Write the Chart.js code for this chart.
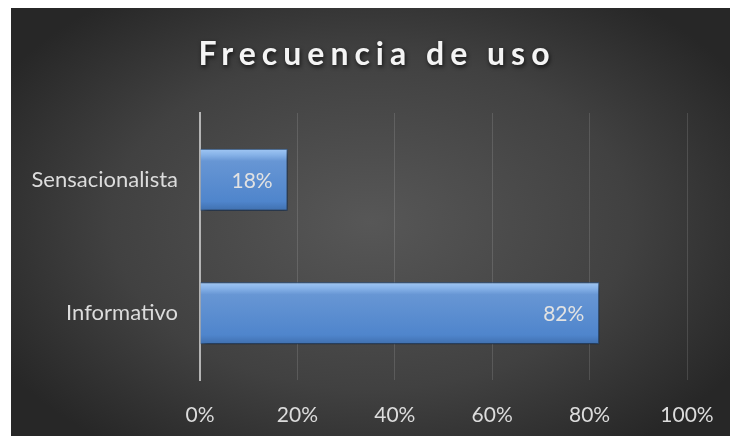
<!DOCTYPE html>
<html>
<head>
<meta charset="utf-8">
<script src="https://cdn.jsdelivr.net/npm/chart.js@4.4.1/dist/chart.umd.min.js"></script>
<style>
    html, body { margin: 0; padding: 0; background: #fff; }
    .wrap {
        position: absolute;
        left: 11px;
        top: 8px;
        width: 719px;
        height: 428px;
        background: radial-gradient(ellipse 60% 65% at 50% 50%, #575757 0%, #414141 60%, #272727 100%);
    }
</style>
</head>
<body>
<div class="wrap"><canvas id="chart"></canvas></div>
<script>
// Data
const categories = ['Sensacionalista', 'Informativo'];
const values = [18, 82];
const xTicks = [0, 20, 40, 60, 80, 100];
const chartTitle = 'Frecuencia de uso';

const FONT = 'Lato';

// Gradient fill + shadow for the bars
const barStyle = {
    id: 'barStyle',
    beforeDatasetDraw(chart, args) {
        const ctx = chart.ctx;
        args.meta.data.forEach(bar => {
            const top = bar.y - bar.height / 2;
            const g = ctx.createLinearGradient(0, top, 0, top + bar.height);
            g.addColorStop(0, '#a2c8f4');
            g.addColorStop(0.1, '#86b2e8');
            g.addColorStop(0.2, '#6796d4');
            g.addColorStop(0.85, '#4f85cc');
            g.addColorStop(1, '#3f6fae');
            // own copy so the bars don't share one gradient
            bar.options = Object.assign({}, bar.options, { backgroundColor: g });
        });
        ctx.save();
        ctx.shadowColor = 'rgba(0,0,0,0.6)';
        ctx.shadowBlur = 6;
        ctx.shadowOffsetX = 2;
        ctx.shadowOffsetY = 3;
    },
    afterDatasetDraw(chart) {
        chart.ctx.restore();
    }
};

// Value labels inside the end of each bar
const valueLabels = {
    id: 'valueLabels',
    afterDatasetsDraw(chart) {
        const ctx = chart.ctx;
        const meta = chart.getDatasetMeta(0);
        ctx.save();
        ctx.font = '21px ' + FONT;
        ctx.fillStyle = '#e2e2e2';
        ctx.textAlign = 'right';
        ctx.textBaseline = 'middle';
        meta.data.forEach((bar, i) => {
            ctx.fillText(values[i] + '%', bar.x - 15, bar.y + 1);
        });
        ctx.restore();
    }
};

// Title drawn with letter spacing and a soft shadow
const spacedTitle = {
    id: 'spacedTitle',
    afterDraw(chart) {
        const ctx = chart.ctx;
        ctx.save();
        ctx.font = 'bold 32px ' + FONT;
        ctx.letterSpacing = '6px';
        ctx.fillStyle = '#f4f4f4';
        ctx.textAlign = 'center';
        ctx.textBaseline = 'alphabetic';
        ctx.shadowColor = 'rgba(0,0,0,0.7)';
        ctx.shadowBlur = 4;
        ctx.shadowOffsetX = 1;
        ctx.shadowOffsetY = 2;
        ctx.fillText(chartTitle, 366, 57);
        ctx.restore();
    }
};

new Chart(document.getElementById('chart'), {
    type: 'bar',
    data: {
        labels: categories,
        datasets: [{
            data: values,
            backgroundColor: '#4f81bd',
            borderColor: '#355f94',
            borderWidth: 1,
            barPercentage: 0.465,
            categoryPercentage: 1
        }]
    },
    options: {
        indexAxis: 'y',
        responsive: true,
        maintainAspectRatio: false,
        animation: false,
        layout: { padding: { top: 105, right: 43, left: 0, bottom: 0 } },
        plugins: {
            legend: { display: false },
            title: { display: false },
            tooltip: { enabled: false }
        },
        scales: {
            x: {
                min: 0,
                max: 100,
                afterBuildTicks(scale) {
                    scale.ticks = xTicks.map(v => ({ value: v }));
                },
                ticks: {
                    color: '#dcdcdc',
                    font: { family: FONT, size: 21 },
                    padding: 23,
                    callback: (val) => val + '%'
                },
                grid: { color: 'rgba(255,255,255,0.13)', drawTicks: false, lineWidth: 1 },
                border: { display: false },
                afterFit(scale) {
                    scale.height = 56;
                    scale.paddingLeft = 0;
                    scale.paddingRight = 0;
                }
            },
            y: {
                ticks: {
                    color: '#dcdcdc',
                    font: { family: FONT, size: 22 },
                    padding: 22
                },
                grid: { display: false, drawTicks: false },
                border: { display: true, color: '#b4b4b4', width: 2 },
                afterFit(scale) { scale.width = 189; }
            }
        }
    },
    plugins: [barStyle, valueLabels, spacedTitle]
});
</script>
</body>
</html>
